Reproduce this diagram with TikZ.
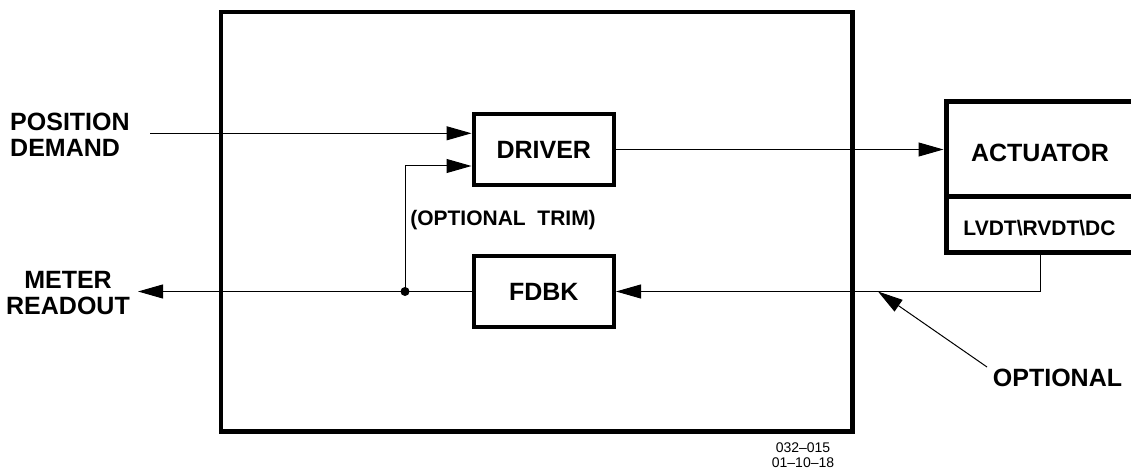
\documentclass[tikz,border=0pt]{standalone}
\usepackage{fontspec}
\setmainfont{Liberation Sans}
\usetikzlibrary{arrows.meta}
\begin{document}
\begin{tikzpicture}[x=1pt,y=-1pt,
  lbl/.style={font=\fontsize{25}{26}\selectfont\bfseries, inner sep=0pt},
  small/.style={font=\fontsize{21}{22}\selectfont\bfseries, inner sep=0pt},
  blk/.style={draw, line width=4pt, inner sep=0pt, font=\fontsize{25}{26}\selectfont\bfseries},
  actbox/.style={draw, line width=5pt, inner sep=0pt, minimum width=188pt},
  conn/.style={line width=1pt},
  tip/.style={-{Triangle[length=25pt,width=14pt]}},
  dotmark/.style={circle, fill, inner sep=0pt, minimum size=9pt}
]
\useasboundingbox (0,0) rectangle (1131,473);
\clip (0,0) rectangle (1131,473);

% frame
\node[draw, line width=4.5pt, minimum width=631.5pt, minimum height=419.5pt, inner sep=0pt] (frame) at (536.75,221.75) {};

% blocks
\node[blk, minimum width=140.5pt, minimum height=71pt] (driver) at (543.75,149.5) {DRIVER};
\node[blk, minimum width=140.5pt, minimum height=71pt] (fdbk) at (543.75,291.5) {FDBK};
\node[actbox, minimum height=94.5pt] (act) at (1040,149.25) {};
\node[actbox, minimum height=56pt] (lvdt) at (1040,224.5) {};
\node[lbl, anchor=base] (acttxt) at (1040,162) {ACTUATOR};
\node[small, anchor=base] (lvdttxt) at (1039.5,235.5) {LVDT\textbackslash RVDT\textbackslash DC};

% labels
\node[lbl, align=left, anchor=west] (posdem) at (10,135) {POSITION\\DEMAND};
\node[lbl, align=center, anchor=center] (meter) at (68,293) {METER\\READOUT};
\node[small, anchor=base] (trimlbl) at (503,225) {(OPTIONAL\ \ TRIM)};
\node[lbl, anchor=center] (optlbl) at (1057.5,377.5) {OPTIONAL};
\node[font=\fontsize{14}{15}\selectfont, align=center, anchor=north, inner sep=0pt] (stamp) at (803,443) {032--015\\01--10--18};

% coordinates
\coordinate (posin) at (150,133.3);
\coordinate (trimin) at (472,166);
\coordinate (dot) at (405,291.5);
\coordinate (meterout) at (138,291.5);
\coordinate (opttail) at (987,367);
\coordinate (opttip) at (878,291.5);

% connectors
\draw[conn, tip] (posin) -- (posin -| driver.west);
\draw[conn, tip] (dot) |- (trimin -| driver.west);
\draw[conn, tip] (fdbk.west) -- (meterout);
\node[dotmark] (junction) at (dot) {};
\draw[conn, tip] (driver.east) -- (driver.east -| act.west);
\draw[conn, tip] (lvdt.south) |- (fdbk.east);
\draw[conn, tip] (opttail) -- (opttip);
\end{tikzpicture}
\end{document}
